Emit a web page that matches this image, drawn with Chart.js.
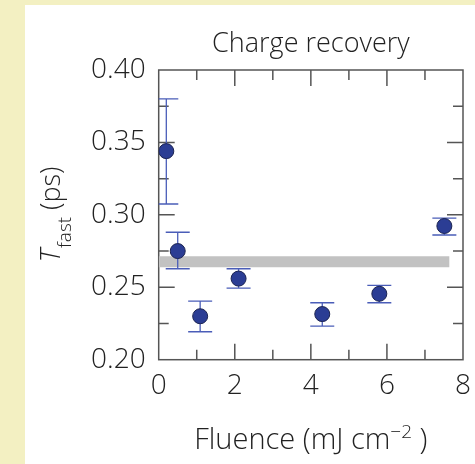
<!DOCTYPE html>
<html>
<head>
<meta charset="utf-8">
<script src="https://cdn.jsdelivr.net/npm/chart.js@4/dist/chart.umd.min.js"></script>
<style>
  html, body { margin: 0; padding: 0; background: #f3f0c2; }
  #chart { display: block; }
</style>
</head>
<body>
<canvas id="chart" width="475" height="464"></canvas>
<script>
// Fast charge-recovery time versus pump fluence
const fluence  = [0.20, 0.50, 1.09, 2.10, 4.30, 5.80, 7.51];          // mJ cm^-2
const tauFast  = [0.344, 0.275, 0.230, 0.256, 0.2315, 0.2455, 0.2923]; // ps
const errHigh  = [0.380, 0.288, 0.2405, 0.2628, 0.2393, 0.2513, 0.2978];
const errLow   = [0.3075, 0.2628, 0.2193, 0.2494, 0.2232, 0.2393, 0.2861];

// Average level (grey band)
const bandX     = [0, 7.64];
const bandLevel = [0.2676, 0.2676];

// Axis ticks
const xTicks = [0, 2, 4, 6, 8];
const yTicks = [0.20, 0.25, 0.30, 0.35, 0.40];

const FONT = '"Open Sans", "Noto Sans", sans-serif';
const WEIGHT = 350;
const TEXT = '#222222';
const FRAME = '#555555';

const pagePlugin = {
  id: 'page',
  beforeDraw(chart) {
    const ctx = chart.ctx;
    ctx.save();
    ctx.fillStyle = '#f3f0c2';
    ctx.fillRect(0, 0, chart.width, chart.height);
    ctx.fillStyle = '#ffffff';
    ctx.fillRect(25, 5, chart.width - 25, chart.height - 5);
    ctx.restore();
  }
};

// Frame around the plot with inward ticks on all four sides
const framePlugin = {
  id: 'frame',
  beforeDatasetsDraw(chart) {
    const { ctx, chartArea: a, scales } = chart;
    const xs = scales.x, ys = scales.y;
    const major = 16, minor = 10;
    ctx.save();
    ctx.strokeStyle = FRAME;
    ctx.lineWidth = 1.5;
    ctx.beginPath();
    const xStep = (xTicks[1] - xTicks[0]) / 2;
    for (let k = 1; xs.min + k * xStep < xs.max - 1e-9; k++) {
      const px = xs.getPixelForValue(xs.min + k * xStep);
      const len = (k % 2 === 0) ? major : minor;
      ctx.moveTo(px, a.bottom); ctx.lineTo(px, a.bottom - len);
      ctx.moveTo(px, a.top);    ctx.lineTo(px, a.top + len);
    }
    const yStep = (yTicks[1] - yTicks[0]) / 2;
    for (let k = 1; ys.min + k * yStep < ys.max - 1e-9; k++) {
      const py = ys.getPixelForValue(ys.min + k * yStep);
      const len = (k % 2 === 0) ? major : minor;
      ctx.moveTo(a.left, py);  ctx.lineTo(a.left + len, py);
      ctx.moveTo(a.right, py); ctx.lineTo(a.right - len, py);
    }
    ctx.stroke();
    ctx.strokeRect(a.left, a.top, a.right - a.left, a.bottom - a.top);
    ctx.restore();
  }
};

// Vertical error bars with caps, drawn above the band and below the markers
const errorBarPlugin = {
  id: 'errorBars',
  afterDatasetDraw(chart, args) {
    if (args.index !== 1) return;
    const { ctx, chartArea: a, scales } = chart;
    const cap = 12;
    ctx.save();
    ctx.beginPath();
    ctx.rect(a.left, a.top, a.right - a.left, a.bottom - a.top);
    ctx.clip();
    ctx.strokeStyle = '#4a5db8';
    ctx.lineWidth = 1.3;
    ctx.beginPath();
    for (let i = 0; i < fluence.length; i++) {
      const px = scales.x.getPixelForValue(fluence[i]);
      const yHi = scales.y.getPixelForValue(errHigh[i]);
      const yLo = scales.y.getPixelForValue(errLow[i]);
      ctx.moveTo(px, yHi); ctx.lineTo(px, yLo);
      ctx.moveTo(px - cap, yHi); ctx.lineTo(px + cap, yHi);
      ctx.moveTo(px - cap, yLo); ctx.lineTo(px + cap, yLo);
    }
    ctx.stroke();
    ctx.restore();
  }
};

// Axis titles with sub/superscripts
const axisTitlePlugin = {
  id: 'axisTitles',
  afterDraw(chart) {
    const { ctx, chartArea: a } = chart;
    ctx.save();
    ctx.fillStyle = TEXT;
    ctx.textBaseline = 'alphabetic';
    ctx.textAlign = 'left';

    // x title: Fluence (mJ cm−2 )
    const mainX = WEIGHT + ' 29px ' + FONT, supX = WEIGHT + ' 19px ' + FONT;
    const p1 = 'Fluence (mJ cm', p2 = '\u22122', p3 = ' )';
    ctx.font = mainX; const w1 = ctx.measureText(p1).width, w3 = ctx.measureText(p3).width;
    ctx.font = supX;  const w2 = ctx.measureText(p2).width;
    let x = (a.left + a.right) / 2 - (w1 + w2 + w3) / 2;
    const base = 449;
    ctx.font = mainX; ctx.fillText(p1, x, base); x += w1;
    ctx.font = supX;  ctx.fillText(p2, x, base - 11); x += w2;
    ctx.font = mainX; ctx.fillText(p3, x, base);

    // y title: T_fast (ps), rotated
    const tFont = 'italic ' + WEIGHT + ' 27px ' + FONT;
    const subFont = WEIGHT + ' 19px ' + FONT, mainY = WEIGHT + ' 27px ' + FONT;
    const q1 = 'T', q2 = 'fast', q3 = ' (ps)';
    ctx.font = tFont;   const v1 = ctx.measureText(q1).width;
    ctx.font = subFont; const v2 = ctx.measureText(q2).width;
    ctx.font = mainY;   const v3 = ctx.measureText(q3).width;
    ctx.translate(60, (a.top + a.bottom) / 2);
    ctx.rotate(-Math.PI / 2);
    let t = -(v1 + v2 + v3) / 2;
    ctx.font = tFont;   ctx.fillText(q1, t, 0); t += v1 + 1;
    ctx.font = subFont; ctx.fillText(q2, t, 11); t += v2;
    ctx.font = mainY;   ctx.fillText(q3, t, 0);
    ctx.restore();
  }
};

new Chart(document.getElementById('chart'), {
  type: 'scatter',
  data: {
    datasets: [
      {
        label: 'T_fast',
        data: fluence.map((f, i) => ({ x: f, y: tauFast[i] })),
        pointRadius: 7.5,
        pointHoverRadius: 7.5,
        backgroundColor: '#2b3d94',
        borderColor: '#1c2452',
        borderWidth: 1
      },
      {
        label: 'average',
        data: bandX.map((f, i) => ({ x: f, y: bandLevel[i] })),
        showLine: true,
        pointRadius: 0,
        borderColor: '#c2c2c2',
        borderWidth: 11,
        borderCapStyle: 'butt'
      }
    ]
  },
  options: {
    responsive: false,
    devicePixelRatio: 1,
    animation: false,
    layout: { padding: { left: 25, top: 28, right: 12, bottom: 0 } },
    plugins: {
      legend: { display: false },
      tooltip: { enabled: false },
      title: {
        display: true,
        fullSize: false,
        text: 'Charge recovery',
        color: TEXT,
        font: { family: FONT, size: 27, weight: WEIGHT, lineHeight: 1.2 },
        padding: { top: 0, bottom: 9.6 }
      }
    },
    scales: {
      x: {
        type: 'linear',
        position: 'bottom',
        min: 0, max: 8,
        grid: { display: false, drawTicks: false },
        border: { display: false },
        ticks: {
          color: TEXT,
          font: { family: FONT, size: 28, weight: WEIGHT },
          padding: 10,
          autoSkip: false,
          maxRotation: 0
        },
        afterBuildTicks(s) { s.ticks = xTicks.map(v => ({ value: v })); },
        afterFit(s) {
          s.height = 104.3;
          // end labels may overhang the plot by half their width only
          s.paddingLeft = 8;
          s.paddingRight = 8;
        }
      },
      y: {
        type: 'linear',
        position: 'left',
        min: 0.2, max: 0.4,
        grid: { display: false, drawTicks: false },
        border: { display: false },
        ticks: {
          color: TEXT,
          font: { family: FONT, size: 28, weight: WEIGHT },
          padding: 13,
          callback: v => v.toFixed(2)
        },
        afterBuildTicks(s) { s.ticks = yTicks.map(v => ({ value: v })); },
        afterFit(s) { s.width = 133.7; }
      }
    }
  },
  plugins: [pagePlugin, framePlugin, errorBarPlugin, axisTitlePlugin]
});
</script>
</body>
</html>
